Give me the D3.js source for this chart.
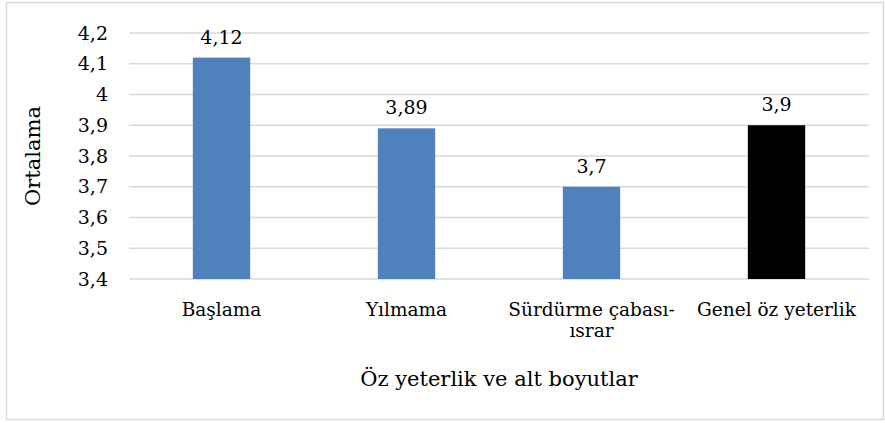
<!DOCTYPE html>
<html>
<head>
<meta charset="utf-8">
<script src="https://cdn.jsdelivr.net/npm/d3@7"></script>
<style>
  body { margin: 0; background: #fff; }
</style>
</head>
<body>
<div id="container"></div>
<script>
const categories = ["Başlama", "Yılmama", "Sürdürme çabası-|ısrar", "Genel öz yeterlik"];
const values = [4.12, 3.89, 3.7, 3.9];
const barColors = ["#4f81bd", "#4f81bd", "#4f81bd", "#000000"];
const yTicks = [3.4, 3.5, 3.6, 3.7, 3.8, 3.9, 4, 4.1, 4.2];
const yTitle = "Ortalama";
const xTitle = "Öz yeterlik ve alt boyutlar";

const W = 885, H = 423;
const margin = {top: 33, right: 16, bottom: 144, left: 129};
const width = W - margin.left - margin.right;
const height = H - margin.top - margin.bottom;

const svg = d3.select("#container").append("svg")
  .attr("width", W)
  .attr("height", H)
  .attr("font-family", "'DejaVu Serif', serif")
  .attr("fill", "#000");

// chart border
svg.append("rect")
  .attr("x", 6.5).attr("y", 2.5)
  .attr("width", 877).attr("height", 417)
  .attr("fill", "none")
  .attr("stroke", "#d9d9d9")
  .attr("stroke-width", 1.5);

const g = svg.append("g").attr("transform", `translate(${margin.left},${margin.top})`);

const x = d3.scaleBand().domain(categories).range([0, width]).paddingInner(0.69).paddingOuter(0.345);
const y = d3.scaleLinear().domain([3.4, 4.2]).range([height, 0]);

const fmt = v => String(v).replace(".", ",");

// gridlines
g.selectAll(".grid").data(yTicks).join("line")
  .attr("x1", 0).attr("x2", width)
  .attr("y1", d => y(d)).attr("y2", d => y(d))
  .attr("stroke", "#d9d9d9").attr("stroke-width", 1.5);

// y tick labels
g.selectAll(".ytick").data(yTicks).join("text")
  .attr("x", -21).attr("y", d => y(d))
  .attr("dy", "0.35em")
  .attr("text-anchor", "end")
  .attr("font-size", 19)
  .text(fmt);

// bars
g.selectAll(".bar").data(values).join("rect")
  .attr("x", (d, i) => x(categories[i]))
  .attr("y", d => y(d))
  .attr("width", x.bandwidth())
  .attr("height", d => height - y(d))
  .attr("fill", (d, i) => barColors[i]);

// value labels
g.selectAll(".val").data(values).join("text")
  .attr("x", (d, i) => x(categories[i]) + x.bandwidth() / 2)
  .attr("y", d => y(d) - 14)
  .attr("text-anchor", "middle")
  .attr("font-size", 19)
  .text(fmt);

// x category labels
categories.forEach((c, i) => {
  const t = g.append("text")
    .attr("x", x(c) + x.bandwidth() / 2)
    .attr("y", height + 37)
    .attr("text-anchor", "middle")
    .attr("font-size", 18.5);
  c.split("|").forEach((line, j) => {
    t.append("tspan")
      .attr("x", x(c) + x.bandwidth() / 2)
      .attr("dy", j === 0 ? 0 : "1.15em")
      .text(line);
  });
});

// axis titles
svg.append("text")
  .attr("transform", `translate(40,${margin.top + height / 2}) rotate(-90)`)
  .attr("text-anchor", "middle")
  .attr("font-size", 21)
  .text(yTitle);

svg.append("text")
  .attr("x", margin.left + width / 2)
  .attr("y", 386)
  .attr("text-anchor", "middle")
  .attr("font-size", 21)
  .text(xTitle);
</script>
</body>
</html>
